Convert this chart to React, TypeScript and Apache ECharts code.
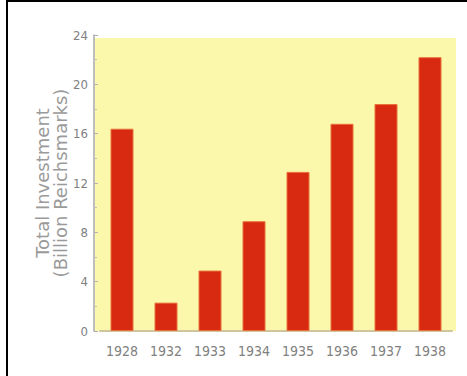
import React, { useEffect, useRef } from "react";
import * as echarts from "echarts";

const years = ["1928", "1932", "1933", "1934", "1935", "1936", "1937", "1938"];
const investment = [16.4, 2.3, 4.9, 8.9, 12.9, 16.8, 18.4, 22.2];
const yTicks = [0, 4, 8, 12, 16, 20, 24];

const W = 467;
const H = 376;
const GRID_LEFT = 100;
const GRID_RIGHT = 15;
const GRID_TOP = 35;
const GRID_BOTTOM = 45;

export default function App() {
  const ref = useRef<HTMLDivElement>(null);
  useEffect(() => {
    if (!ref.current) return;
    const chart = echarts.init(ref.current, null, { renderer: "svg" });
    const yMax = yTicks[yTicks.length - 1];
    chart.setOption({
      animation: false,
      backgroundColor: "#ffffff",
      graphic: [
        {
          type: "rect",
          z: -10,
          silent: true,
          shape: { x: 95, y: 38, width: 361, height: H - GRID_BOTTOM - 38 },
          style: { fill: "#fbf7ab" },
        },
      ],
      grid: {
        left: GRID_LEFT,
        right: GRID_RIGHT,
        top: GRID_TOP,
        bottom: GRID_BOTTOM,
        containLabel: false,
      },
      xAxis: {
        type: "category",
        data: years,
        axisLine: { show: true, lineStyle: { color: "#cfc6a0", width: 2 } },
        axisTick: { show: false },
        axisLabel: {
          color: "#808080",
          fontFamily: "DejaVu Sans Condensed, Liberation Sans Narrow, sans-serif",
          fontSize: 14,
          margin: 13,
        },
      },
      yAxis: {
        type: "value",
        min: 0,
        max: yMax,
        interval: 4,
        offset: 6,
        name: "Total Investment\n(Billion Reichsmarks)",
        nameLocation: "middle",
        nameRotate: 90,
        nameGap: 25,
        nameMoveOverlap: false,
        nameTextStyle: {
          color: "#9a9a9a",
          fontFamily: "DejaVu Sans, sans-serif",
          fontSize: 18,
          lineHeight: 18,
        },
        axisLine: { show: true, lineStyle: { color: "#a8a8a8", width: 1.5 } },
        axisTick: { show: true, inside: true, length: 4, lineStyle: { color: "#b0b0b0" } },
        minorTick: { show: true, splitNumber: 2, length: 3, lineStyle: { color: "#c0c0b0" } },
        splitLine: { show: false },
        axisLabel: {
          color: "#808080",
          fontFamily: "DejaVu Sans Condensed, Liberation Sans Narrow, sans-serif",
          fontSize: 13,
          margin: 6,
        },
      },
      series: [
        {
          type: "bar",
          data: investment,
          barWidth: 23,
          itemStyle: {
            color: "#d82a10",
            borderColor: "#e8703a",
            borderWidth: 1,
          },
        },
      ],
    });
    return () => chart.dispose();
  }, []);

  return (
    <div style={{ position: "fixed", left: 0, top: 0, width: W, height: H, background: "#fff" }}>
      <div ref={ref} style={{ position: "absolute", left: 0, top: 0, width: W, height: H }} />
      <div
        style={{
          position: "absolute",
          left: 6,
          top: 0,
          width: W - 6,
          height: H,
          borderTop: "2px solid #000",
          borderLeft: "2px solid #000",
          boxSizing: "border-box",
          pointerEvents: "none",
        }}
      />
    </div>
  );
}
